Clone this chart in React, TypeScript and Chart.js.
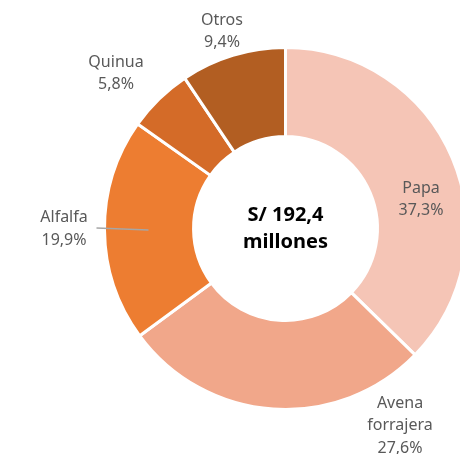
import React, { useEffect, useRef } from "react";
import { Chart, registerables } from "chart.js";

Chart.register(...registerables);

const categories = ["Papa", "Avena forrajera", "Alfalfa", "Quinua", "Otros"];
const shares = [37.3, 27.6, 19.9, 5.8, 9.4];
const labelLines = [["Papa"], ["Avena", "forrajera"], ["Alfalfa"], ["Quinua"], ["Otros"]];
const centerLines = ["S/ 192,4", "millones"];
const colors = ["#F5C5B6", "#F1A78A", "#ED7D31", "#D46B28", "#B25E22"];

// label block centers relative to the doughnut centre (layout, not data)
const labelOffsets = [
  [135.5, -29],
  [114.5, 197],
  [-221.5, 0.5],
  [-169.5, -155],
  [-63.5, -197],
];

const fmt = (v: number) => v.toFixed(1).replace(".", ",") + "%";

const labelPlugin = {
  id: "sliceLabels",
  afterDraw(chart: any) {
    const meta = chart.getDatasetMeta(0);
    const arc = meta.data[0];
    if (!arc) return;
    const cx = arc.x;
    const cy = arc.y;
    const ctx = chart.ctx;
    ctx.save();
    // leader line for Alfalfa
    ctx.strokeStyle = "#A6A6A6";
    ctx.lineWidth = 1.5;
    ctx.beginPath();
    ctx.moveTo(cx - 189, cy - 0.5);
    ctx.lineTo(cx - 137, cy + 1.5);
    ctx.stroke();

    ctx.textAlign = "center";
    ctx.textBaseline = "middle";
    ctx.fillStyle = "#595959";
    ctx.font = "16px 'Noto Sans'";
    const lh = 22.5;
    categories.forEach((_, i) => {
      const lines = [...labelLines[i], fmt(shares[i])];
      const [dx, dy] = labelOffsets[i];
      const x = cx + dx;
      const top = cy + dy - ((lines.length - 1) * lh) / 2;
      lines.forEach((t, j) => ctx.fillText(t, x, top + j * lh));
    });

    ctx.fillStyle = "#000000";
    ctx.font = "bold 20px 'Noto Sans'";
    ctx.fillText(centerLines[0], cx, cy - 13);
    ctx.fillText(centerLines[1], cx, cy + 14);
    ctx.restore();
  },
};

export default function App() {
  const ref = useRef<HTMLCanvasElement>(null);
  useEffect(() => {
    document.body.style.margin = "0";
    const chart = new Chart(ref.current!, {
      type: "doughnut",
      data: {
        labels: categories,
        datasets: [
          {
            data: shares,
            backgroundColor: colors,
            borderColor: "#FFFFFF",
            borderWidth: 3,
          },
        ],
      },
      options: {
        animation: false,
        responsive: false,
        radius: 181,
        cutout: "50.8%",
        rotation: 0,
        layout: { padding: 0 },
        plugins: {
          legend: { display: false },
          tooltip: { enabled: false },
          title: { display: false },
        },
      },
      plugins: [labelPlugin],
    });
    return () => chart.destroy();
  }, []);
  return (
    <div style={{ position: "relative", width: 460, height: 454, overflow: "hidden", background: "#fff" }}>
      <canvas ref={ref} width={571} height={457} style={{ position: "absolute", left: 0, top: 0 }} />
    </div>
  );
}
